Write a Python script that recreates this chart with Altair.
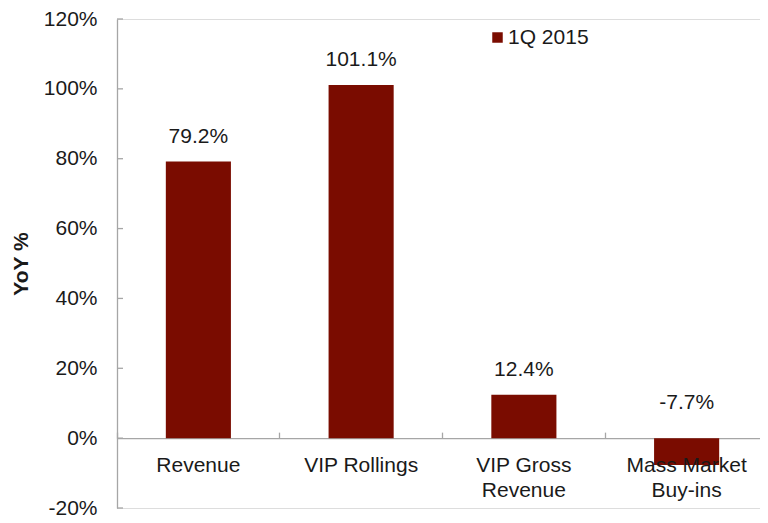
import altair as alt
import pandas as pd

categories = ["Revenue", "VIP Rollings", "VIP Gross\nRevenue", "Mass Market\nBuy-ins"]
values = [79.2, 101.1, 12.4, -7.7]
value_labels = ["79.2%", "101.1%", "12.4%", "-7.7%"]
series_name = "1Q 2015"
y_ticks = [-20, 0, 20, 40, 60, 80, 100, 120]

BAR = "#7a0c00"
AXIS = "#a6a6a6"
FONT = "Liberation Sans"
TXT = "#1a1a1a"
FS = 21

df = pd.DataFrame({
    "category": categories,
    "value": values,
    "label": value_labels,
    "series": [series_name] * len(categories),
})
ticks_df = pd.DataFrame({"tick": y_ticks})

W, H = 643, 489
XR = 651  # x range runs slightly past the visible area, as in the original
zero_px = H * 120 / 140

xscale = alt.Scale(paddingInner=0, paddingOuter=0, range=[0, XR])
xenc = alt.X("category:N", sort=categories, scale=xscale,
             axis=alt.Axis(orient="top", offset=-zero_px, labels=False, title=None,
                           bandPosition=0, tickSize=6, domainColor=AXIS, tickColor=AXIS,
                           domainWidth=1.3, tickWidth=1.3))
yscale = alt.Scale(domain=[-20, 120], nice=False, zero=False)
yenc = alt.Y("value:Q", scale=yscale,
             axis=alt.Axis(values=y_ticks, labelExpr="datum.value + '%'", grid=False,
                           ticks=False, tickSize=0, labelPadding=20, labelFontSize=FS,
                           labelColor=TXT, labelFont=FONT, domainColor=AXIS, domainWidth=1.3,
                           title="YoY %", titleFontSize=FS, titleFontWeight="bold",
                           titleFont=FONT, titleColor=TXT, titlePadding=12))

bars = alt.Chart(df).mark_bar(width=alt.RelativeBandSize(0.4)).encode(
    x=xenc,
    y=yenc,
    color=alt.Color("series:N", scale=alt.Scale(range=[BAR]),
                    legend=alt.Legend(orient="none", legendX=370, legendY=8, title=None,
                                      symbolType="square", symbolSize=110, symbolStrokeWidth=0,
                                      labelFontSize=FS, labelFont=FONT, labelColor=TXT,
                                      labelOffset=0, padding=0)),
)

xtext = alt.X("category:N", sort=categories, scale=xscale)

pos_text = alt.Chart(df).transform_filter("datum.value >= 0").mark_text(
    dy=-19, baseline="alphabetic", fontSize=FS, font=FONT, color=TXT
).encode(x=xtext, y=alt.Y("value:Q", scale=yscale), text="label:N")

neg_text = alt.Chart(df).transform_filter("datum.value < 0").mark_text(
    dy=-29, baseline="alphabetic", fontSize=FS, font=FONT, color=TXT
).encode(x=xtext, y=alt.YDatum(0, scale=yscale), text="label:N")

cat_text = alt.Chart(df).mark_text(
    dy=34, baseline="alphabetic", fontSize=FS, font=FONT, color=TXT, lineBreak="\n", lineHeight=25
).encode(x=xtext, y=alt.YDatum(0, scale=yscale), text="category:N")

tick_rules = alt.Chart(ticks_df).mark_rule(color=AXIS, strokeWidth=1.3).encode(
    y=alt.Y("tick:Q", scale=yscale), x=alt.value(0), x2=alt.value(6)
)

chart = alt.layer(bars, tick_rules, pos_text, neg_text, cat_text).properties(
    width=W, height=H,
    autosize=alt.AutoSizeParams(type="none"),
    padding={"left": 109, "top": 11, "right": 0, "bottom": 12},
).configure_view(stroke=None).configure(font=FONT)

chart.save("out.html", embed_options={"renderer": "svg", "actions": False})
